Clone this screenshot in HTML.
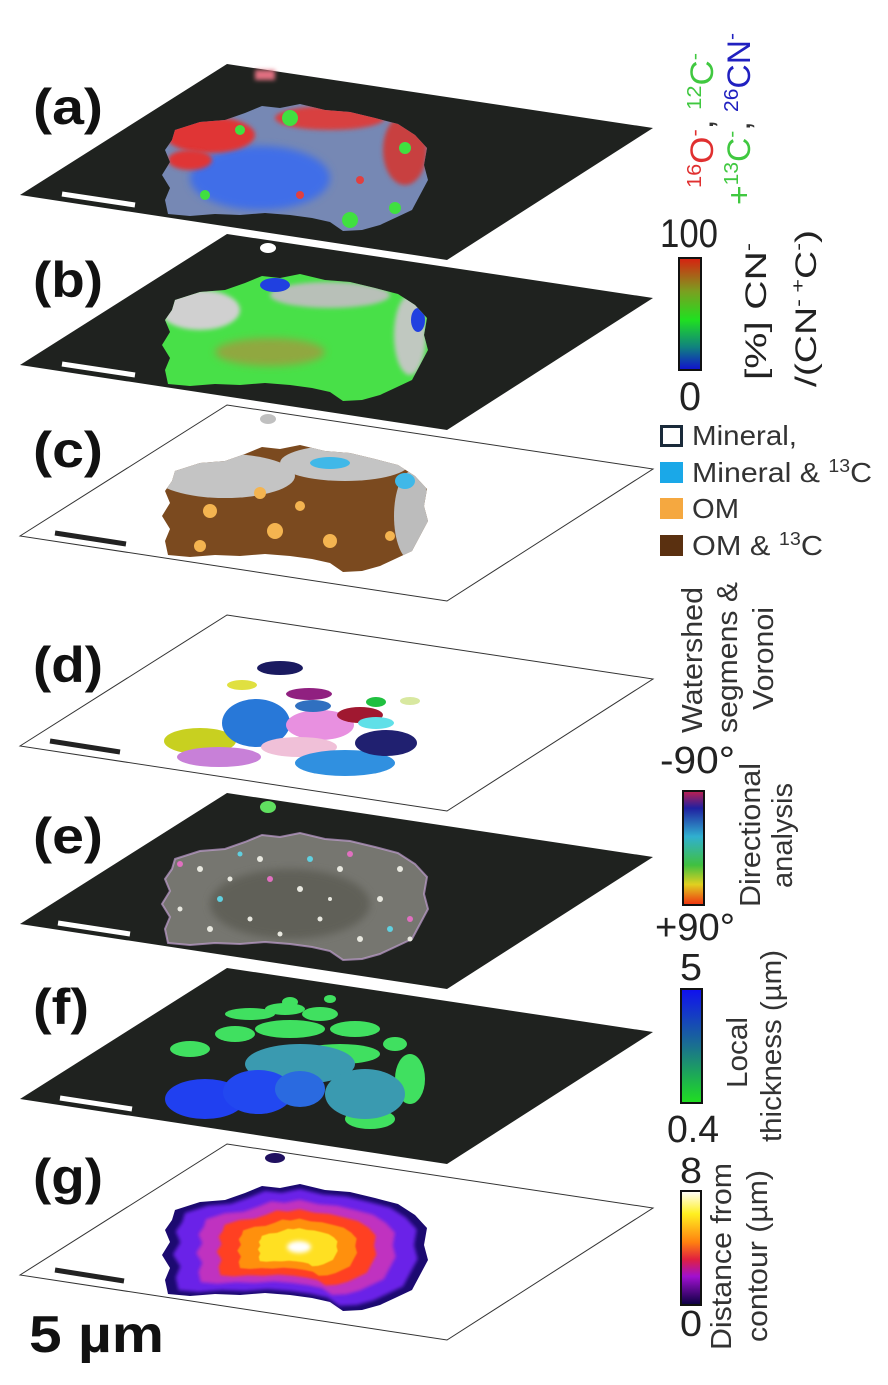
<!DOCTYPE html>
<html><head><meta charset="utf-8"><style>
html,body{margin:0;padding:0;background:#fff;width:888px;height:1385px;overflow:hidden}
svg{display:block}
text{font-family:"Liberation Sans",Arial,sans-serif}
</style></head><body>
<svg width="888" height="1385" viewBox="0 0 888 1385" xmlns="http://www.w3.org/2000/svg">
<defs>
<path id="blob" d="M175,130 L200,122 L225,120 L245,113 L262,106 L280,108 L300,104 L325,110 L350,112 L375,118 L398,124 L415,135 L427,148 L424,165 L428,180 L420,195 L412,210 L395,218 L380,225 L362,230 L343,231 L330,222 L312,218 L290,215 L265,213 L240,215 L215,214 L190,216 L168,214 L165,200 L170,188 L162,175 L170,162 L165,150 L172,140 Z"/>
<clipPath id="cb"><use href="#blob"/></clipPath>
<filter id="bl" x="-50%" y="-50%" width="200%" height="200%"><feGaussianBlur stdDeviation="4"/></filter>
<filter id="bl2" x="-50%" y="-50%" width="200%" height="200%"><feGaussianBlur stdDeviation="2"/></filter>
<linearGradient id="gb" x1="0" y1="0" x2="0" y2="1"><stop offset="0" stop-color="#d82010"/><stop offset="0.3" stop-color="#7aa020"/><stop offset="0.55" stop-color="#20e020"/><stop offset="0.8" stop-color="#108080"/><stop offset="1" stop-color="#1010d0"/></linearGradient>
<linearGradient id="ge" x1="0" y1="0" x2="0" y2="1"><stop offset="0" stop-color="#c02050"/><stop offset="0.15" stop-color="#2020a0"/><stop offset="0.4" stop-color="#30b0d0"/><stop offset="0.65" stop-color="#40c040"/><stop offset="0.82" stop-color="#e0d020"/><stop offset="1" stop-color="#f03010"/></linearGradient>
<linearGradient id="gf" x1="0" y1="0" x2="0" y2="1"><stop offset="0" stop-color="#1010f0"/><stop offset="0.5" stop-color="#1a7090"/><stop offset="1" stop-color="#20e020"/></linearGradient>
<linearGradient id="gg" x1="0" y1="0" x2="0" y2="1"><stop offset="0" stop-color="#ffffff"/><stop offset="0.2" stop-color="#fff020"/><stop offset="0.45" stop-color="#ff8010"/><stop offset="0.6" stop-color="#e02040"/><stop offset="0.75" stop-color="#a010d0"/><stop offset="1" stop-color="#0a0040"/></linearGradient>
</defs>

<!-- (a) -->
<g>
<polygon points="20,195 227,64 653,128 447,260" fill="#1f221f"/>
<rect x="255" y="70" width="20" height="10" fill="#e07080" filter="url(#bl2)"/>
<g clip-path="url(#cb)">
<rect x="150" y="90" width="300" height="160" fill="#7688b4"/>
<ellipse cx="260" cy="178" rx="70" ry="32" fill="#3f6ee8" filter="url(#bl)"/>
<ellipse cx="210" cy="135" rx="45" ry="18" fill="#e03535" filter="url(#bl2)"/>
<ellipse cx="190" cy="160" rx="22" ry="10" fill="#e03535" filter="url(#bl2)"/>
<ellipse cx="330" cy="118" rx="55" ry="12" fill="#d84040" filter="url(#bl2)"/>
<ellipse cx="405" cy="150" rx="22" ry="35" fill="#c84040" filter="url(#bl2)"/>
<circle cx="290" cy="118" r="8" fill="#40e040"/><circle cx="405" cy="148" r="6" fill="#40e040"/>
<circle cx="350" cy="220" r="8" fill="#40e040"/><circle cx="205" cy="195" r="5" fill="#40e040"/>
<circle cx="395" cy="208" r="6" fill="#40e040"/><circle cx="240" cy="130" r="5" fill="#40e040"/>
<circle cx="300" cy="195" r="4" fill="#e04040"/><circle cx="360" cy="180" r="4" fill="#e04040"/>
</g>
<line x1="62" y1="194" x2="135" y2="205" stroke="#fff" stroke-width="5"/>
</g>

<!-- (b) -->
<g transform="translate(0,170)">
<polygon points="20,195 227,64 653,128 447,260" fill="#1f221f"/>
<ellipse cx="268" cy="78" rx="8" ry="5" fill="#fff"/>
<g clip-path="url(#cb)">
<rect x="150" y="90" width="300" height="160" fill="#48e048"/>
<ellipse cx="200" cy="140" rx="40" ry="20" fill="#d0d0d0" filter="url(#bl2)"/>
<ellipse cx="330" cy="125" rx="60" ry="13" fill="#b8c0b8" filter="url(#bl2)"/>
<ellipse cx="410" cy="165" rx="16" ry="40" fill="#c0c8c0" filter="url(#bl2)"/>
<ellipse cx="275" cy="115" rx="15" ry="7" fill="#2040e0"/>
<ellipse cx="418" cy="150" rx="7" ry="12" fill="#2040e0"/>
<ellipse cx="270" cy="182" rx="55" ry="14" fill="#90a840" filter="url(#bl)"/>
</g>
<line x1="62" y1="194" x2="135" y2="205" stroke="#fff" stroke-width="5"/>
</g>

<!-- (c) -->
<g transform="translate(0,341)">
<polygon points="20,195 227,64 653,128 447,260" fill="#fff" stroke="#333" stroke-width="1"/>
<ellipse cx="268" cy="78" rx="8" ry="5" fill="#c0c0c0"/>
<g clip-path="url(#cb)">
<rect x="150" y="90" width="300" height="160" fill="#7b4a1f"/>
<ellipse cx="225" cy="135" rx="70" ry="22" fill="#c4c4c4"/>
<ellipse cx="345" cy="122" rx="65" ry="18" fill="#c4c4c4"/>
<ellipse cx="412" cy="175" rx="18" ry="45" fill="#bcbcbc"/>
<ellipse cx="330" cy="122" rx="20" ry="6" fill="#40b8e8"/>
<ellipse cx="405" cy="140" rx="10" ry="8" fill="#40b8e8"/>
<circle cx="210" cy="170" r="7" fill="#f4b450"/><circle cx="275" cy="190" r="8" fill="#f4b450"/>
<circle cx="330" cy="200" r="7" fill="#f4b450"/><circle cx="200" cy="205" r="6" fill="#f4b450"/>
<circle cx="260" cy="152" r="6" fill="#f4b450"/><circle cx="390" cy="195" r="5" fill="#f4b450"/>
<circle cx="300" cy="165" r="5" fill="#f4b450"/>
</g>
<line x1="55" y1="192" x2="126" y2="203" stroke="#222" stroke-width="5"/>
</g>

<!-- (d) -->
<g transform="translate(0,551)">
<polygon points="20,195 227,64 653,128 447,260" fill="#fff" stroke="#333" stroke-width="1"/>
<ellipse cx="200" cy="190" rx="36" ry="13" fill="#c8d020"/>
<ellipse cx="219" cy="206" rx="42" ry="10" fill="#c880d8"/>
<ellipse cx="256" cy="172" rx="34" ry="24" fill="#2878d8"/>
<ellipse cx="320" cy="174" rx="34" ry="15" fill="#e890e0"/>
<ellipse cx="299" cy="196" rx="38" ry="10" fill="#f0c0d8"/>
<ellipse cx="345" cy="212" rx="50" ry="13" fill="#3090e0"/>
<ellipse cx="386" cy="192" rx="31" ry="13" fill="#202070"/>
<ellipse cx="360" cy="164" rx="23" ry="8" fill="#a01830"/>
<ellipse cx="280" cy="117" rx="23" ry="7" fill="#1a1a60"/>
<ellipse cx="309" cy="143" rx="23" ry="6" fill="#902080"/>
<ellipse cx="313" cy="155" rx="18" ry="6" fill="#3070c0"/>
<ellipse cx="376" cy="151" rx="10" ry="5" fill="#20c040"/>
<ellipse cx="376" cy="172" rx="18" ry="6" fill="#60e0e8"/>
<ellipse cx="242" cy="134" rx="15" ry="5" fill="#e0e040"/>
<ellipse cx="410" cy="150" rx="10" ry="4" fill="#d8e8a0"/>
<line x1="50" y1="190" x2="120" y2="201" stroke="#222" stroke-width="5"/>
</g>

<!-- (e) -->
<g transform="translate(0,729)">
<polygon points="20,195 227,64 653,128 447,260" fill="#1f221f"/>
<ellipse cx="268" cy="78" rx="8" ry="6" fill="#60e060"/>
<g clip-path="url(#cb)">
<rect x="150" y="90" width="300" height="160" fill="#767670"/>
<ellipse cx="290" cy="175" rx="80" ry="35" fill="#606058" filter="url(#bl)"/>
</g>
<use href="#blob" fill="none" stroke="#c0a0d0" stroke-width="2" opacity="0.7"/>
<g fill="#e8e8e0">
<circle cx="200" cy="140" r="3"/><circle cx="230" cy="150" r="2.5"/><circle cx="260" cy="130" r="3"/><circle cx="300" cy="160" r="3"/>
<circle cx="340" cy="140" r="3"/><circle cx="380" cy="170" r="3"/><circle cx="360" cy="210" r="3"/><circle cx="320" cy="190" r="2.5"/>
<circle cx="250" cy="190" r="2.5"/><circle cx="210" cy="200" r="3"/><circle cx="400" cy="140" r="3"/><circle cx="280" cy="205" r="2.5"/>
<circle cx="180" cy="180" r="2.5"/><circle cx="410" cy="210" r="2.5"/><circle cx="330" cy="170" r="2"/>
</g>
<g fill="#e070c0"><circle cx="180" cy="135" r="3"/><circle cx="270" cy="150" r="3"/><circle cx="350" cy="125" r="3"/><circle cx="410" cy="190" r="3"/></g>
<g fill="#60d0e0"><circle cx="220" cy="170" r="3"/><circle cx="310" cy="130" r="3"/><circle cx="390" cy="200" r="3"/><circle cx="240" cy="125" r="2.5"/></g>
<line x1="58" y1="194" x2="130" y2="205" stroke="#fff" stroke-width="5"/>
</g>

<!-- (f) -->
<g transform="translate(0,904)">
<polygon points="20,195 227,64 653,128 447,260" fill="#1f221f"/>
<g fill="#40e060">
<ellipse cx="250" cy="110" rx="25" ry="6"/><ellipse cx="285" cy="105" rx="20" ry="6"/><ellipse cx="320" cy="110" rx="18" ry="7"/>
<ellipse cx="235" cy="130" rx="20" ry="8"/><ellipse cx="290" cy="125" rx="35" ry="9"/><ellipse cx="355" cy="125" rx="25" ry="8"/>
<ellipse cx="190" cy="145" rx="20" ry="8"/><ellipse cx="340" cy="150" rx="40" ry="10"/><ellipse cx="395" cy="140" rx="12" ry="7"/>
<ellipse cx="410" cy="175" rx="15" ry="25"/><ellipse cx="370" cy="215" rx="25" ry="10"/><ellipse cx="290" cy="98" rx="8" ry="5"/>
<ellipse cx="330" cy="95" rx="6" ry="4"/>
</g>
<ellipse cx="300" cy="160" rx="55" ry="20" fill="#3a9ab0"/>
<ellipse cx="365" cy="190" rx="40" ry="25" fill="#3a9ab0"/>
<ellipse cx="205" cy="195" rx="40" ry="20" fill="#2040f0"/>
<ellipse cx="258" cy="188" rx="35" ry="22" fill="#2248f0"/>
<ellipse cx="300" cy="185" rx="25" ry="18" fill="#2a6ae0"/>
<line x1="60" y1="194" x2="132" y2="205" stroke="#fff" stroke-width="5"/>
</g>

<!-- (g) -->
<g transform="translate(0,1080)">
<polygon points="20,195 227,64 653,128 447,260" fill="#fff" stroke="#333" stroke-width="1"/>
<ellipse cx="275" cy="78" rx="10" ry="5" fill="#201060"/>
<use href="#blob" fill="#1c0a70"/>
<use href="#blob" fill="#6a20e8" transform="translate(299,167) scale(0.92) translate(-299,-167)" filter="url(#bl2)"/>
<use href="#blob" fill="#c030c0" transform="translate(299,167) scale(0.75) translate(-299,-167)" filter="url(#bl2)"/>
<use href="#blob" fill="#ff4020" transform="translate(299,167) scale(0.6) translate(-299,-167)" filter="url(#bl2)"/>
<use href="#blob" fill="#ff9010" transform="translate(299,167) scale(0.45) translate(-299,-167)" filter="url(#bl2)"/>
<use href="#blob" fill="#ffe020" transform="translate(299,167) scale(0.3) translate(-299,-167)" filter="url(#bl2)"/>
<ellipse cx="299" cy="167" rx="12" ry="6" fill="#fff" filter="url(#bl2)"/>
<line x1="55" y1="190" x2="124" y2="201" stroke="#222" stroke-width="5"/>
</g>

<!-- panel labels -->
<g font-weight="bold" font-size="50" fill="#111">
<text x="33" y="124" textLength="70" lengthAdjust="spacingAndGlyphs">(a)</text>
<text x="33" y="297" textLength="70" lengthAdjust="spacingAndGlyphs">(b)</text>
<text x="33" y="467" textLength="70" lengthAdjust="spacingAndGlyphs">(c)</text>
<text x="33" y="682" textLength="70" lengthAdjust="spacingAndGlyphs">(d)</text>
<text x="33" y="853" textLength="70" lengthAdjust="spacingAndGlyphs">(e)</text>
<text x="33" y="1024" textLength="56" lengthAdjust="spacingAndGlyphs">(f)</text>
<text x="33" y="1194" textLength="70" lengthAdjust="spacingAndGlyphs">(g)</text>
<text x="29" y="1352" font-size="52" textLength="135" lengthAdjust="spacingAndGlyphs">5 µm</text>
</g>

<!-- (a) legend -->
<text transform="translate(713,188) rotate(-90)" font-size="32" textLength="135" lengthAdjust="spacingAndGlyphs"><tspan fill="#e03030" font-size="20" dy="-12">16</tspan><tspan fill="#e03030" dy="12">O</tspan><tspan fill="#e03030" font-size="20" dy="-12">-</tspan><tspan fill="#333" dy="12">, </tspan><tspan fill="#40c840" font-size="20" dy="-12">12</tspan><tspan fill="#40c840" dy="12">C</tspan><tspan fill="#40c840" font-size="20" dy="-12">-</tspan></text>
<text transform="translate(750,205) rotate(-90)" font-size="32" textLength="172" lengthAdjust="spacingAndGlyphs"><tspan fill="#40c840">+</tspan><tspan fill="#40c840" font-size="20" dy="-12">13</tspan><tspan fill="#40c840" dy="12">C</tspan><tspan fill="#40c840" font-size="20" dy="-12">-</tspan><tspan fill="#333" dy="12">, </tspan><tspan fill="#2020c0" font-size="20" dy="-12">26</tspan><tspan fill="#2020c0" dy="12">CN</tspan><tspan fill="#2020c0" font-size="20" dy="-12">-</tspan></text>

<!-- (b) colorbar -->
<rect x="679" y="258" width="22" height="112" fill="url(#gb)" stroke="#111" stroke-width="2"/>
<text x="660" y="247" font-size="40" fill="#222" textLength="58" lengthAdjust="spacingAndGlyphs">100</text>
<text x="679" y="410" font-size="40" fill="#222" textLength="22" lengthAdjust="spacingAndGlyphs">0</text>
<text transform="translate(766,380) rotate(-90)" font-size="30" fill="#222" textLength="137" lengthAdjust="spacingAndGlyphs">[%] CN<tspan font-size="18" dy="-12">-</tspan></text>
<text transform="translate(816,387) rotate(-90)" font-size="30" fill="#222" textLength="157" lengthAdjust="spacingAndGlyphs">/(CN<tspan font-size="18" dy="-12">- +</tspan><tspan dy="12">C</tspan><tspan font-size="18" dy="-12">-</tspan><tspan dy="12">)</tspan></text>

<!-- (c) legend -->
<rect x="661.5" y="426.5" width="20" height="19" fill="#fff" stroke="#1a2a3a" stroke-width="3"/>
<rect x="660" y="462" width="23" height="21" fill="#1aa8e8"/>
<rect x="660" y="498" width="23" height="21" fill="#f5a840"/>
<rect x="660" y="535" width="23" height="21" fill="#5a3010"/>
<g font-size="28" fill="#333">
<text x="692" y="445" textLength="105" lengthAdjust="spacingAndGlyphs">Mineral,</text>
<text x="692" y="482" textLength="180" lengthAdjust="spacingAndGlyphs">Mineral &amp; <tspan font-size="18" dy="-10">13</tspan><tspan dy="10">C</tspan></text>
<text x="692" y="518" textLength="47" lengthAdjust="spacingAndGlyphs">OM</text>
<text x="692" y="555" textLength="131" lengthAdjust="spacingAndGlyphs">OM &amp; <tspan font-size="18" dy="-10">13</tspan><tspan dy="10">C</tspan></text>
</g>

<!-- (d) legend -->
<g font-size="29" fill="#333">
<text transform="translate(702,733) rotate(-90)" textLength="146" lengthAdjust="spacingAndGlyphs">Watershed</text>
<text transform="translate(737,733) rotate(-90)" textLength="151" lengthAdjust="spacingAndGlyphs">segmens &amp;</text>
<text transform="translate(773,710) rotate(-90)" textLength="103" lengthAdjust="spacingAndGlyphs">Voronoi</text>
</g>

<!-- (e) colorbar -->
<rect x="683" y="791" width="21" height="114" fill="url(#ge)" stroke="#111" stroke-width="2"/>
<text x="660" y="773" font-size="38" fill="#222" textLength="75" lengthAdjust="spacingAndGlyphs">-90°</text>
<text x="655" y="940" font-size="38" fill="#222" textLength="80" lengthAdjust="spacingAndGlyphs">+90°</text>
<g font-size="29" fill="#333">
<text transform="translate(760,907) rotate(-90)" textLength="144" lengthAdjust="spacingAndGlyphs">Directional</text>
<text transform="translate(792,888) rotate(-90)" textLength="105" lengthAdjust="spacingAndGlyphs">analysis</text>
</g>

<!-- (f) colorbar -->
<rect x="681" y="989" width="21" height="114" fill="url(#gf)" stroke="#111" stroke-width="2"/>
<text x="680" y="980" font-size="38" fill="#222" textLength="22" lengthAdjust="spacingAndGlyphs">5</text>
<text x="667" y="1142" font-size="38" fill="#222" textLength="52" lengthAdjust="spacingAndGlyphs">0.4</text>
<g font-size="29" fill="#333">
<text transform="translate(747,1088) rotate(-90)" textLength="71" lengthAdjust="spacingAndGlyphs">Local</text>
<text transform="translate(781,1142) rotate(-90)" textLength="192" lengthAdjust="spacingAndGlyphs">thickness (µm)</text>
</g>

<!-- (g) colorbar -->
<rect x="681" y="1191" width="20" height="114" fill="url(#gg)" stroke="#111" stroke-width="2"/>
<text x="680" y="1183" font-size="36" fill="#222" textLength="22" lengthAdjust="spacingAndGlyphs">8</text>
<text x="680" y="1336" font-size="36" fill="#222" textLength="22" lengthAdjust="spacingAndGlyphs">0</text>
<g font-size="29" fill="#333">
<text transform="translate(731,1350) rotate(-90)" textLength="187" lengthAdjust="spacingAndGlyphs">Distance from</text>
<text transform="translate(767,1342) rotate(-90)" textLength="172" lengthAdjust="spacingAndGlyphs">contour (µm)</text>
</g>
</svg>
</body></html>
